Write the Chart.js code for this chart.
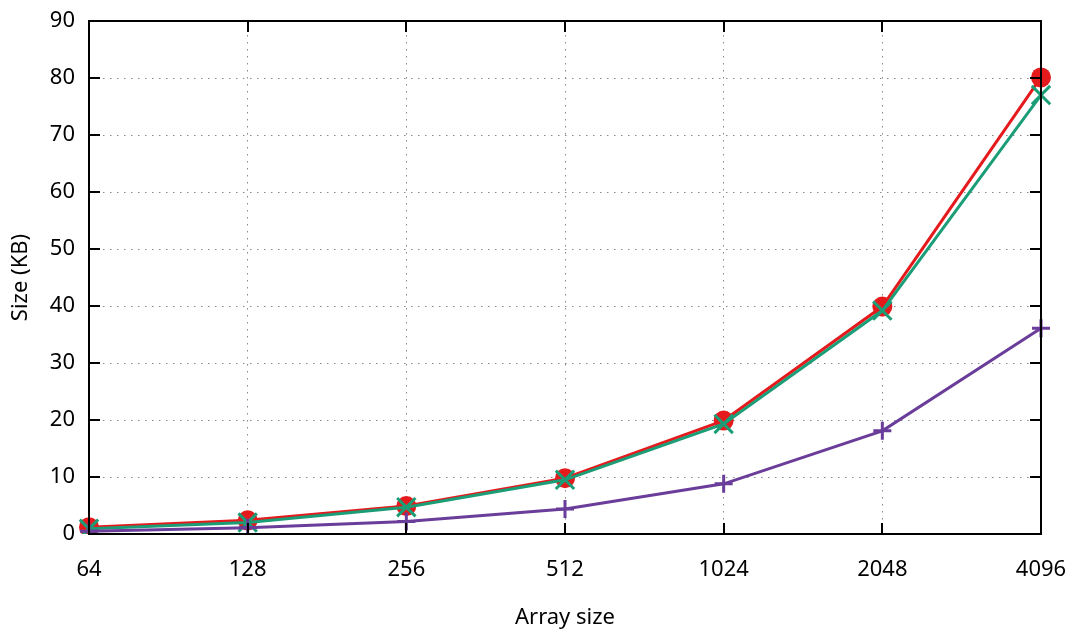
<!DOCTYPE html>
<html>
<head>
<meta charset="utf-8">
<script src="https://cdn.jsdelivr.net/npm/chart.js@4/dist/chart.umd.min.js"></script>
<style>
  html, body { margin:0; padding:0; background:#fff; }
  #wrap { width:1075px; height:635px; }
</style>
</head>
<body>
<div id="wrap"><canvas id="c"></canvas></div>
<script>
const arraySizes = ["64", "128", "256", "512", "1024", "2048", "4096"];
const redSeries = [1.2, 2.4, 4.9, 9.8, 19.9, 39.9, 80.1];
const greenSeries = [0.9, 2.0, 4.7, 9.5, 19.3, 39.2, 77.0];
const purpleSeries = [0.5, 1.1, 2.2, 4.4, 8.8, 18.1, 36.1];
const yTicks = [0, 10, 20, 30, 40, 50, 60, 70, 80, 90];

const FONT = "'Noto Sans', 'Open Sans', sans-serif";

// gnuplot-style frame with inward ticks on all four sides
const framePlugin = {
  id: "frame",
  afterDatasetsDraw(chart) {
    const { ctx, chartArea: a, scales } = chart;
    const len = 11;
    ctx.save();
    ctx.strokeStyle = "#000";
    ctx.lineWidth = 2;
    ctx.beginPath();
    yTicks.forEach(v => {
      const y = Math.round(scales.y.getPixelForValue(v));
      ctx.moveTo(a.left, y); ctx.lineTo(a.left + len, y);
      ctx.moveTo(a.right, y); ctx.lineTo(a.right - len, y);
    });
    arraySizes.forEach((_, i) => {
      const x = Math.round(scales.x.getPixelForValue(i));
      ctx.moveTo(x, a.bottom); ctx.lineTo(x, a.bottom - len);
      ctx.moveTo(x, a.top); ctx.lineTo(x, a.top + len);
    });
    ctx.stroke();
    ctx.strokeRect(a.left, a.top, a.right - a.left, a.bottom - a.top);
    ctx.restore();
  }
};

new Chart(document.getElementById("c"), {
  type: "line",
  data: {
    labels: arraySizes,
    datasets: [
      {
        label: "red", data: redSeries, order: 3,
        borderColor: "#e41a1c", backgroundColor: "#e41a1c", borderWidth: 3,
        pointStyle: "circle", pointRadius: 10, pointBorderWidth: 0
      },
      {
        label: "green", data: greenSeries, order: 2,
        borderColor: "#1b9e77", backgroundColor: "#1b9e77", borderWidth: 3,
        pointStyle: "crossRot", pointRadius: 13, pointBorderWidth: 3
      },
      {
        label: "purple", data: purpleSeries, order: 1,
        borderColor: "#6a3d9a", backgroundColor: "#6a3d9a", borderWidth: 3,
        pointStyle: "cross", pointRadius: 9, pointBorderWidth: 3
      }
    ]
  },
  options: {
    responsive: true,
    maintainAspectRatio: false,
    animation: false,
    events: [],
    layout: { padding: { top: 21, right: 34, left: 0, bottom: 0 } },
    plugins: { legend: { display: false }, tooltip: { enabled: false } },
    scales: {
      x: {
        type: "category",
        offset: false,
        border: { display: false, dash: [1.5, 5.5] },
        grid: { color: "#888", lineWidth: 1, drawTicks: false },
        ticks: { color: "#000", font: { family: FONT, size: 22 }, padding: 23, maxRotation: 0 },
        title: { display: true, text: "Array size", color: "#000", font: { family: FONT, size: 22 }, padding: { top: 12 } },
        afterFit(s) { s.height = 101; s.paddingLeft = 0; s.paddingRight = 0; }
      },
      y: {
        min: 0, max: 90,
        border: { display: false, dash: [1.5, 5.5] },
        afterBuildTicks(s) { s.ticks = yTicks.map(v => ({ value: v })); },
        grid: { color: "#888", lineWidth: 1, drawTicks: false },
        ticks: { color: "#000", font: { family: FONT, size: 22 }, padding: 14 },
        title: { display: true, text: "Size (KB)", color: "#000", font: { family: FONT, size: 22 }, padding: { top: 8, bottom: 0 } },
        afterFit(s) { s.width = 89; s.paddingTop = 0; s.paddingBottom = 0; }
      }
    }
  },
  plugins: [framePlugin]
});
</script>
</body>
</html>
